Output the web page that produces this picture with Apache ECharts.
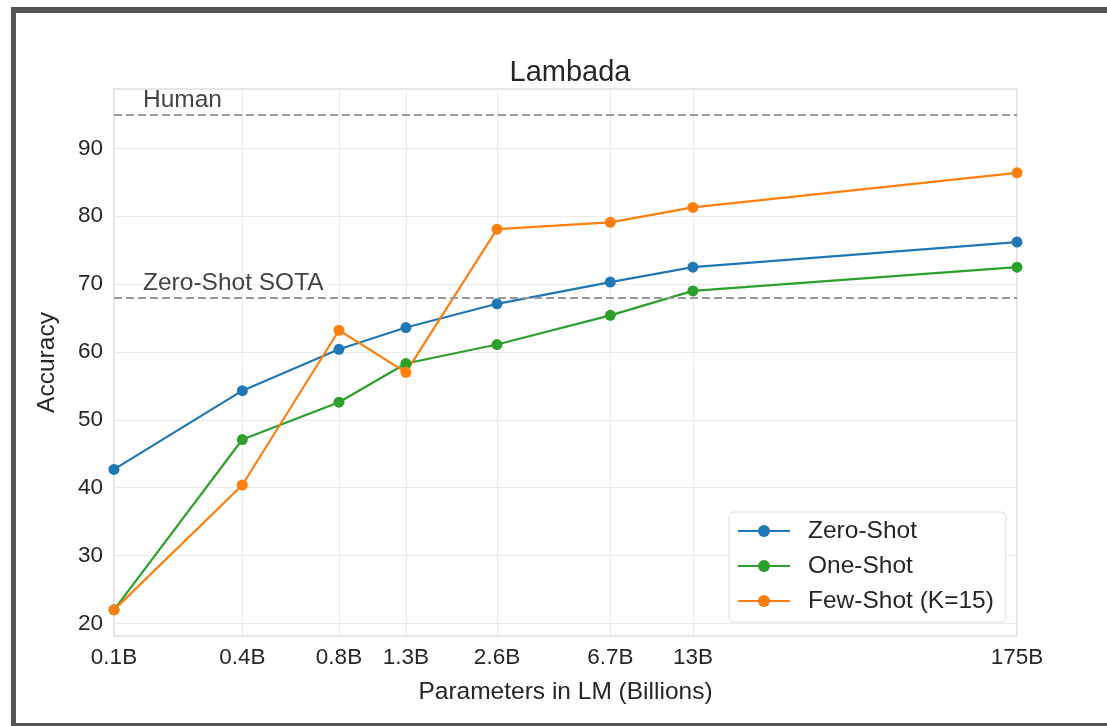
<!DOCTYPE html>
<html>
<head>
<meta charset="utf-8">
<title>Lambada</title>
<script src="https://cdn.jsdelivr.net/npm/echarts@6/dist/echarts.min.js"></script>
<style>
  html, body { margin: 0; padding: 0; background: #ffffff; }
  #chart { position: absolute; left: 0; top: 0; width: 1107px; height: 726px; }
  #frame {
    position: absolute; left: 11px; top: 7px;
    width: 1120px; height: 710px;
    border: solid #555555; border-width: 6px 5px 6px 5px;
    pointer-events: none;
  }
</style>
</head>
<body>
<div id="chart"></div>
<div id="frame"></div>
<script>
// Model sizes (billions of parameters) and their tick labels
const params = [0.125, 0.35, 0.76, 1.3, 2.7, 6.7, 13, 175];
const paramLabels = ['0.1B', '0.4B', '0.8B', '1.3B', '2.6B', '6.7B', '13B', '175B'];

// Lambada accuracy per model size
const zeroShot = [42.7, 54.3, 60.4, 63.6, 67.1, 70.3, 72.5, 76.2];
const oneShot = [22.0, 47.1, 52.6, 58.3, 61.1, 65.4, 69.0, 72.5];
const fewShot = [22.0, 40.4, 63.2, 57.0, 78.1, 79.1, 81.3, 86.4];

// Reference levels
const humanLevel = 95;
const sotaLevel = 68;

const yTicks = [20, 30, 40, 50, 60, 70, 80, 90];

const FONT = '"Liberation Sans", Arial, sans-serif';
const TEXT = '#262626';

function pairs(values) {
  return params.map((p, i) => [p, values[i]]);
}

function labelFor(v) {
  let best = 0, bestD = Infinity;
  params.forEach((p, i) => {
    const d = Math.abs(Math.log(p) - Math.log(v));
    if (d < bestD) { bestD = d; best = i; }
  });
  return paramLabels[best];
}

function lineSeries(name, color, values, extra) {
  return Object.assign({
    name: name,
    type: 'line',
    data: pairs(values),
    symbol: 'circle',
    symbolSize: 11,
    lineStyle: { color: color, width: 2.2 },
    itemStyle: { color: color },
    emphasis: { disabled: true },
    animation: false
  }, extra || {});
}

function refLine(value, text) {
  return {
    yAxis: value,
    label: {
      show: true,
      formatter: text,
      position: 'insideStartTop',
      distance: [29, 2],
      color: '#444444',
      fontFamily: FONT,
      fontSize: 24.5
    }
  };
}

const chart = echarts.init(document.getElementById('chart'), null, { renderer: 'canvas' });

chart.setOption({
  backgroundColor: 'transparent',
  animation: false,
  textStyle: { fontFamily: FONT },
  title: {
    text: 'Lambada',
    left: 565,
    top: 53,
    textAlign: 'center',
    textStyle: { fontFamily: FONT, fontSize: 29, fontWeight: 'normal', color: TEXT }
  },
  grid: {
    left: 114, right: 90, top: 89, bottom: 90,
    show: true, borderColor: '#d0d0d0', borderWidth: 1.2,
    backgroundColor: 'transparent'
  },
  legend: {
    orient: 'vertical',
    left: 729,
    top: 512,
    backgroundColor: '#ffffff',
    borderColor: '#dddddd',
    borderWidth: 1,
    borderRadius: 5,
    padding: [6, 12, 8, 8],
    itemWidth: 52,
    itemHeight: 15,
    itemGap: 9,
    textStyle: { fontFamily: FONT, fontSize: 24.5, color: TEXT, lineHeight: 26, padding: [0, 0, 0, 13] },
    data: ['Zero-Shot', 'One-Shot', 'Few-Shot (K=15)']
  },
  xAxis: {
    type: 'log',
    logBase: 10,
    min: params[0],
    max: params[params.length - 1],
    name: 'Parameters in LM (Billions)',
    nameLocation: 'middle',
    nameGap: 44,
    nameTextStyle: { fontFamily: FONT, fontSize: 24.5, color: TEXT },
    axisLine: { show: false },
    axisTick: { show: false, customValues: params },
    axisLabel: {
      customValues: params,
      formatter: v => labelFor(v),
      fontFamily: FONT, fontSize: 22.5, color: TEXT, margin: 10
    },
    splitLine: { show: true, lineStyle: { color: '#ebebeb', width: 1 } }
  },
  yAxis: {
    type: 'value',
    min: 18.15,
    max: 98.75,
    name: 'Accuracy',
    nameLocation: 'middle',
    nameGap: 54,
    nameTextStyle: { fontFamily: FONT, fontSize: 24.5, color: TEXT },
    axisLine: { show: false },
    axisTick: { show: false, customValues: yTicks },
    axisLabel: {
      customValues: yTicks,
      fontFamily: FONT, fontSize: 22.5, color: TEXT, margin: 11
    },
    splitLine: { show: true, lineStyle: { color: '#ebebeb', width: 1 } }
  },
  series: [
    lineSeries('Zero-Shot', '#1f77b4', zeroShot, {
      markLine: {
        silent: true,
        symbol: 'none',
        animation: false,
        lineStyle: { color: '#9a9a9a', type: [8, 4], width: 2 },
        data: [refLine(humanLevel, 'Human'), refLine(sotaLevel, 'Zero-Shot SOTA')]
      }
    }),
    lineSeries('One-Shot', '#2ca02c', oneShot),
    lineSeries('Few-Shot (K=15)', '#ff7f0e', fewShot)
  ]
});
</script>
</body>
</html>
